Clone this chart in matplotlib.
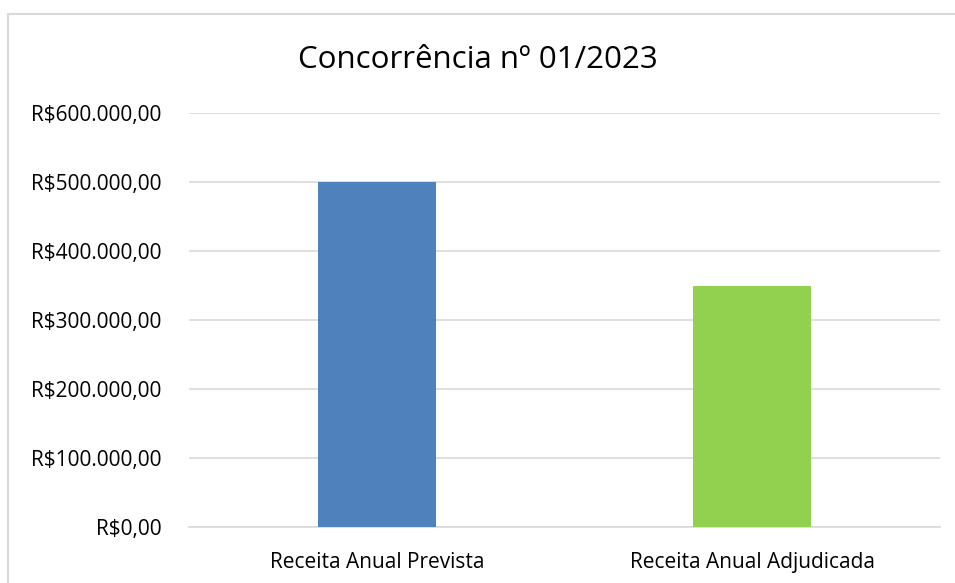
import numpy
import matplotlib
matplotlib.use("Agg")
import matplotlib.pyplot
from matplotlib.lines import Line2D
from matplotlib.ticker import FuncFormatter

categories = ["Receita Anual Prevista", "Receita Anual Adjudicada"]
values = [500000, 350000]
colors = ["#4f81bd", "#92d050"]
yticks = [0, 100000, 200000, 300000, 400000, 500000, 600000]
title = "Concorrência nº 01/2023"


def brl(v, pos=None):
  s = "{:,.2f}".format(v)
  s = s.replace(",", "X").replace(".", ",").replace("X", ".")
  return "R$" + s


def main():
  matplotlib.pyplot.rcParams['font.family'] = ['Open Sans', 'DejaVu Sans']
  fig = matplotlib.pyplot.figure(figsize=(9.55, 5.83), dpi=100)
  # outer chart frame (only top and left edges are visible)
  fx, fy = 8 / 955, 1 - 14 / 583
  fig.lines.append(Line2D([fx, fx, 1.0], [0.0, fy, fy], transform=fig.transFigure,
                          color="#d9d9d9", linewidth=1.5, solid_joinstyle="miter"))
  ax = fig.add_axes([189 / 955, 1 - 527 / 583, 751 / 955, 414 / 583])
  x = numpy.arange(len(categories))
  ax.bar(x, values, width=0.314, color=colors, zorder=3)
  ax.set_xlim(-0.5, len(categories) - 0.5)
  ax.set_ylim(0, 600000)
  ax.set_yticks(yticks)
  ax.yaxis.set_major_formatter(FuncFormatter(brl))
  ax.set_xticks(x)
  ax.set_xticklabels(categories)
  ax.grid(axis="y", color="#d9d9d9", linewidth=1.2, zorder=0)
  for s in ["top", "right", "left"]:
    ax.spines[s].set_visible(False)
  ax.spines["bottom"].set_color("#d9d9d9")
  ax.spines["bottom"].set_linewidth(1.2)
  ax.tick_params(axis="y", length=0, pad=20, labelsize=15, labelcolor="#000000")
  ax.tick_params(axis="x", length=0, pad=18, labelsize=15, labelcolor="#000000")
  fig.text(0.5, 1 - 60 / 583, title, ha="center", va="center", fontsize=22.5, color="#000000")
  matplotlib.pyplot.savefig("out.png", dpi=100)


if __name__ == "__main__":
  main()
